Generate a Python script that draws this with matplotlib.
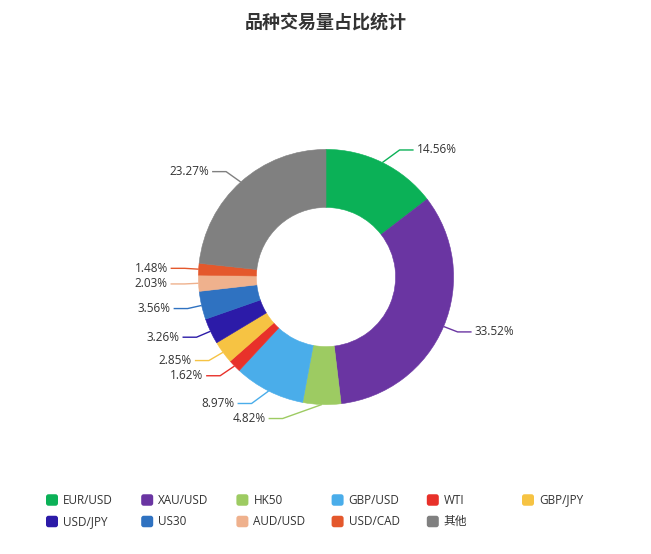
import numpy as np
import matplotlib
matplotlib.use("Agg")
import matplotlib.pyplot as plt
from matplotlib.patches import FancyBboxPatch

plt.rcParams['font.family'] = ['Open Sans', 'Noto Sans CJK SC', 'DejaVu Sans']

# ---- data ----
categories = ["EUR/USD", "XAU/USD", "HK50", "GBP/USD", "WTI", "GBP/JPY",
              "USD/JPY", "US30", "AUD/USD", "USD/CAD", "其他"]
values = [14.56, 33.52, 4.82, 8.97, 1.62, 2.85, 3.26, 3.56, 2.03, 1.48, 23.27]
colors = ["#0bb157", "#6a35a2", "#9dcb62", "#4aadea", "#e8312a", "#f6c343",
          "#2c1ba8", "#2f72c1", "#efb18d", "#e4582c", "#808080"]
title = "品种交易量占比统计"

# ---- layout (pixels) ----
W, H = 651, 554
cx, cy = 326, H - 277
R_out, R_in = 127.6, 69.6

fig = plt.figure(figsize=(W / 100, H / 100), dpi=100)
ax = fig.add_axes([0, 0, 1, 1])

wedges, _ = ax.pie(values, colors=colors, startangle=90, counterclock=False,
                   radius=R_out, center=(cx, cy),
                   wedgeprops=dict(width=R_out - R_in, linewidth=0.4))
for w in wedges:
    w.set_edgecolor(w.get_facecolor())

ax.set_xlim(0, W)
ax.set_ylim(0, H)
ax.set_aspect('equal')
ax.axis('off')

# ---- labels with leader lines ----
total = sum(values)
a = R_out + 14
b = a * 1.05
L2 = 14
cum = 0.0
for v, col in zip(values, colors):
    mid = 90 - 360 * (cum + v / 2) / total
    cum += v
    t = np.deg2rad(mid)
    sx, sy = cx + R_out * np.cos(t), cy + R_out * np.sin(t)
    d = 1 if np.cos(t) >= 0 else -1
    dy = a * np.sin(t)
    ey = cy + dy
    ex = cx + d * a * np.sqrt(max(0.0, 1 - dy * dy / (b * b)))
    lx = ex + d * L2
    ax.plot([sx, ex, lx], [sy, ey, ey], color=col, lw=1, solid_capstyle='butt')
    ax.text(lx + d * 3, ey, f"{v:.2f}%", ha='left' if d > 0 else 'right',
            va='center', fontsize=8.5, color='#333333')

# ---- title ----
ax.text(W / 2, H - 22, title, ha='center', va='center', fontsize=13,
        fontweight='bold', color='#333333', family=['Noto Sans CJK SC'])

# ---- legend ----
col_x0, col_dx = 46, 95.2
row_y0, row_dy = H - 500, 21.5
iw, ih = 12, 11.5
for i, (name, col) in enumerate(zip(categories, colors)):
    c, r = i % 6, i // 6
    x = col_x0 + c * col_dx
    y = row_y0 - r * row_dy
    box = FancyBboxPatch((x, y - ih / 2), iw, ih,
                         boxstyle="round,pad=0,rounding_size=2.5",
                         facecolor=col, edgecolor='none')
    ax.add_patch(box)
    ax.text(x + iw + 5, y, name, ha='left', va='center', fontsize=8.5,
            color='#333333')

fig.savefig("out.png", dpi=100)
